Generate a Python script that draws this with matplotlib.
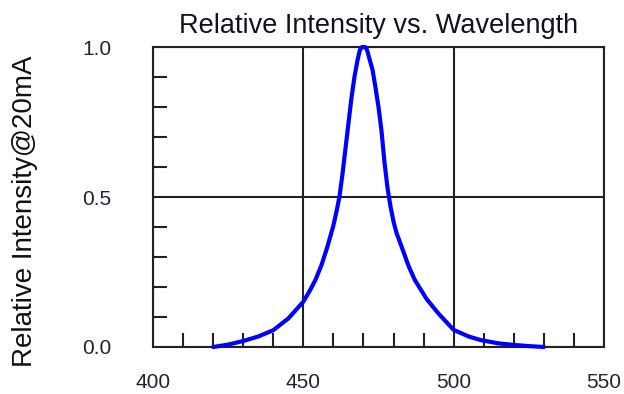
import matplotlib
matplotlib.use("Agg")
import matplotlib.pyplot as plt
from matplotlib.ticker import MultipleLocator

plt.rcParams['font.family'] = ['Liberation Sans', 'DejaVu Sans']

wavelength = [420, 425, 430, 435, 440, 445, 450, 452, 454, 456, 458, 460, 461, 462, 463,
              464, 465, 466, 467, 468, 468.8, 469.5, 470.5, 471.2, 472, 473, 474, 475,
              476, 477, 478, 479, 480, 481, 482.7, 485, 487.1, 491, 494.9, 500,
              505, 509, 515, 520, 525, 530]
intensity = [0.0, 0.008, 0.02, 0.035, 0.056, 0.095, 0.151, 0.185, 0.223, 0.272, 0.334,
             0.405, 0.45, 0.50, 0.575, 0.66, 0.745, 0.83, 0.90, 0.955, 0.99, 1.0, 1.0,
             0.99, 0.96, 0.925, 0.865, 0.80, 0.72, 0.615, 0.53, 0.468, 0.418, 0.38,
             0.334, 0.27, 0.223, 0.16, 0.112, 0.057, 0.035, 0.023, 0.012, 0.007, 0.003, 0.0]

x_ticks = [400, 450, 500, 550]
y_ticks = [0.0, 0.5, 1.0]
y_tick_labels = ["0.0", "0.5", "1.0"]

title = "Relative Intensity vs. Wavelength"
ylabel = "Relative Intensity@20mA"

fig = plt.figure(figsize=(6.24, 3.94), dpi=100)
ax = fig.add_axes([153/624, 1 - 347/394, 451/624, 300/394])

ax.plot(wavelength, intensity, color='#0000ff', linewidth=3.0, solid_capstyle='round',
        solid_joinstyle='round', clip_on=False, zorder=3)

ax.set_xlim(400, 550)
ax.set_ylim(0, 1.0)
ax.set_xticks(x_ticks)
ax.set_yticks(y_ticks)
ax.set_yticklabels(y_tick_labels)
ax.xaxis.set_minor_locator(MultipleLocator(10))
ax.yaxis.set_minor_locator(MultipleLocator(0.1))

ax.tick_params(axis='both', which='major', length=0, labelsize=15, labelcolor='#222233')
ax.tick_params(axis='x', which='major', pad=19)
ax.tick_params(axis='y', which='major', pad=30)
ax.tick_params(axis='both', which='minor', direction='in', length=10, width=1.5,
               color='#222222')

for s in ax.spines.values():
    s.set_linewidth(1.5)
    s.set_color('#222222')

ax.grid(True, which='major', color='#222222', linewidth=1.5)
ax.set_axisbelow(True)

ax.set_title(title, fontsize=19.5, color='#111122', pad=10)
ax.set_ylabel(ylabel, fontsize=20, color='#111111')
ax.yaxis.set_label_coords(-0.255, 0.452)

fig.savefig("out.png", dpi=100)
